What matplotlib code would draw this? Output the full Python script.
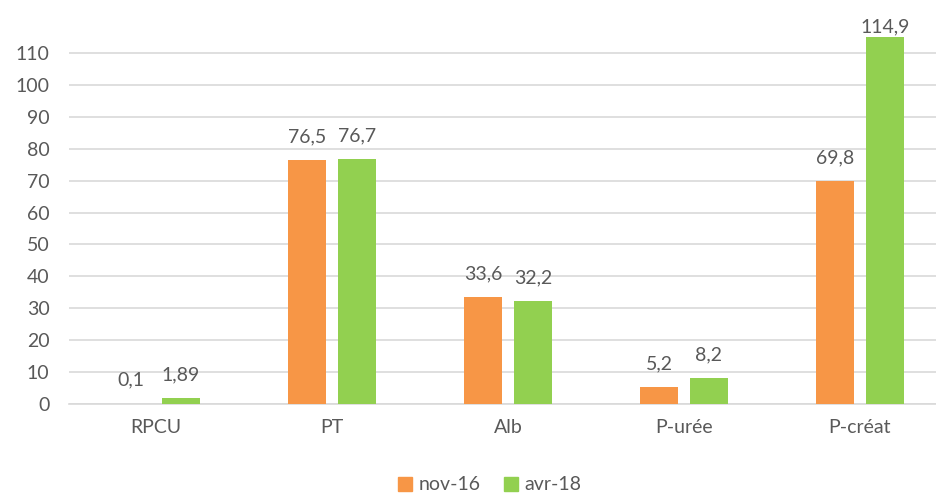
import numpy as np
import matplotlib.pyplot as plt
from matplotlib.patches import Patch

# ----------------------------------------------------------
# DATA
# ----------------------------------------------------------

categories = ["RPCU", "PT", "Alb", "P-urée", "P-créat"]
nov16 = [0.1, 76.5, 33.6, 5.2, 69.8]
avr18 = [1.89, 76.7, 32.2, 8.2, 114.9]
nov16_labels = ["0,1", "76,5", "33,6", "5,2", "69,8"]
avr18_labels = ["1,89", "76,7", "32,2", "8,2", "114,9"]
series_names = ["nov-16", "avr-18"]
y_ticks = list(range(0, 111, 10))

ORANGE = "#F79646"
GREEN = "#92D050"
TEXT = "#595959"
GRID = "#D9D9D9"

plt.rcParams["font.family"] = ["Lato", "DejaVu Sans"]

# ----------------------------------------------------------
# FIGURE
# ----------------------------------------------------------

fig = plt.figure(figsize=(9.36, 4.95), dpi=100)
ax = fig.add_axes([0.0737, 0.1838, 0.9263, 0.7738])

x = np.arange(len(categories))
width = 0.22
offset = 0.142

bars1 = ax.bar(x - offset, nov16, width, color=ORANGE, zorder=3)
bars2 = ax.bar(x + offset, avr18, width, color=GREEN, zorder=3)

# labels sit a bit above each bar, but are kept inside the plot area
label_gap = 5.6
label_max = 116.3
for bars, labels in [(bars1, nov16_labels), (bars2, avr18_labels)]:
    for b, lab in zip(bars, labels):
        ax.text(
            b.get_x() + b.get_width() / 2,
            min(b.get_height() + label_gap, label_max),
            lab,
            ha="center",
            va="baseline",
            fontsize=14,
            color=TEXT,
            zorder=4,
        )

ax.set_xlim(-0.494, 4.432)
ax.set_ylim(0, 120)
ax.set_yticks(y_ticks)
ax.set_xticks(x)
ax.set_xticklabels(categories)

ax.tick_params(axis="both", length=0, labelsize=14, labelcolor=TEXT)
ax.tick_params(axis="x", pad=11)
ax.tick_params(axis="y", pad=14)

ax.grid(axis="y", color=GRID, linewidth=1.2, zorder=0)
for s in ["top", "right", "left"]:
    ax.spines[s].set_visible(False)
ax.spines["bottom"].set_color(GRID)
ax.spines["bottom"].set_linewidth(1.2)

# ----------------------------------------------------------
# LEGEND
# ----------------------------------------------------------

handles = [Patch(color=ORANGE), Patch(color=GREEN)]
fig.legend(
    handles,
    series_names,
    loc="center",
    bbox_to_anchor=(490 / 936, 1 - 485 / 495),
    ncol=2,
    frameon=False,
    fontsize=14,
    labelcolor=TEXT,
    handlelength=0.7,
    handleheight=0.7,
    handletextpad=0.35,
    columnspacing=1.2,
)

fig.savefig("out.png", dpi=100)
